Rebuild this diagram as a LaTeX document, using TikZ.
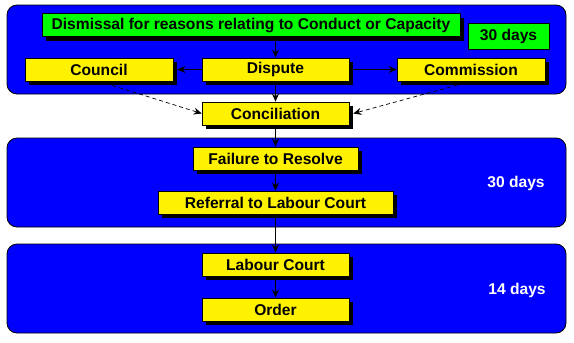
\documentclass[tikz,border=0pt]{standalone}
\usepackage{fontspec}
\setmainfont{Liberation Sans}
\usetikzlibrary{arrows.meta,shadows}

\tikzset{
  panel/.style={draw=black, fill=blue, rounded corners=10pt, line width=0.8pt},
  stagebox/.style={draw=black, fill=yellow, line width=0.6pt, inner sep=0pt,
    minimum height=23pt, font=\fontsize{15.6}{16}\selectfont\bfseries,
    drop shadow={shadow xshift=4pt, shadow yshift=-4pt, fill=black, opacity=1}},
  greenbox/.style={stagebox, fill=green},
  daysbox/.style={draw=black, fill=green, line width=0.6pt, inner sep=0pt,
    minimum width=81pt, minimum height=26pt, font=\fontsize{15.6}{16}\selectfont\bfseries},
  dayslabel/.style={text=white, font=\fontsize{15.6}{16}\selectfont\bfseries},
  link/.style={-{Stealth[length=8pt,width=7pt]}, line width=0.7pt},
  dashlink/.style={link, dash pattern=on 4pt off 3pt},
}

\begin{document}
\begin{tikzpicture}[x=1pt,y=-1pt]
    \useasboundingbox (0,0) rectangle (574,343);

    % 背景面板
    \draw[panel] (7,5) rectangle (566,94);
    \draw[panel] (7,138) rectangle (566,227);
    \draw[panel] (7,244) rectangle (566,333);

    % 第一部分
    \node[greenbox, minimum width=418pt] (dismissal) at (251,25) {Dismissal for reasons relating to Conduct or Capacity};
    \node[daysbox] (days) at (508.5,36) {30 days};
    \node[stagebox, minimum width=148pt] (council) at (99,69.5) {Council};
    \node[stagebox, minimum width=147pt] (dispute) at (275.5,69.5) {Dispute};
    \node[stagebox, minimum width=148pt] (commission) at (471,69.5) {Commission};
    \node[stagebox, minimum width=147pt] (conciliation) at (275.5,113.5) {Conciliation};

    % 第二部分
    \node[stagebox, minimum width=165pt] (failure) at (275.5,158.5) {Failure to Resolve};
    \node[stagebox, minimum width=235pt] (referral) at (275.5,202.5) {Referral to Labour Court};
    \node[dayslabel] (days2) at (516,183) {30 days};

    % 第三部分
    \node[stagebox, minimum width=147pt] (labourcourt) at (275.5,264.5) {Labour Court};
    \node[stagebox, minimum width=147pt] (order) at (275.5,309.5) {Order};
    \node[dayslabel] (days3) at (517,290) {14 days};

    % 连线
    \draw[link] (dismissal.south -| dispute.north) -- (dispute.north);
    \draw[link] (dispute.west) -- ([xshift=4pt]council.east);
    \draw[link] ([xshift=4pt]dispute.east) -- (commission.west);
    \draw[link] (dispute.south) -- (conciliation.north);
    \draw[dashlink] (council.south) -- (conciliation.west);
    \draw[dashlink] (commission.south) -- ([xshift=4pt]conciliation.east);
    \draw[link] (conciliation.south) -- (failure.north);
    \draw[link] (failure.south) -- (referral.north);
    \draw[link] (referral.south) -- (labourcourt.north);
    \draw[link] (labourcourt.south) -- (order.north);
\end{tikzpicture}
\end{document}
